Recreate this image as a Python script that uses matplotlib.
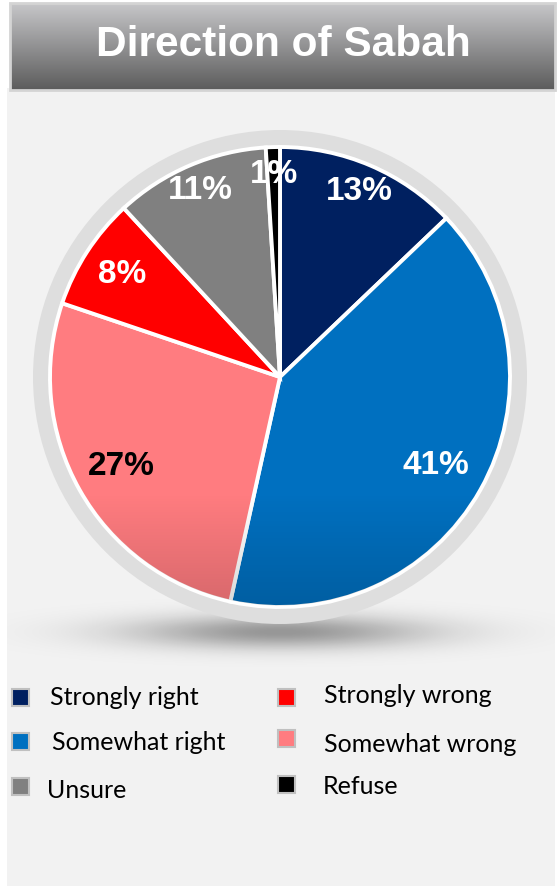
import numpy as np
import matplotlib
matplotlib.use("Agg")
import matplotlib.pyplot as plt
from matplotlib.patches import Rectangle, Circle

# data, pie order clockwise from 12 o'clock
labels = ["Strongly right", "Somewhat right", "Somewhat wrong",
          "Strongly wrong", "Unsure", "Refuse"]
values = [13, 41, 27, 8, 11, 1]
colors = ["#002060", "#0070c0", "#ff7c80", "#ff0000", "#808080", "#000000"]
label_colors = ["white", "white", "black", "white", "white", "white"]
label_dist = [0.875, 0.78, 0.79, 0.82, 0.88, 0.88]

# legend layout (two columns, as in the picture)
legend_cols = [["Strongly right", "Somewhat right", "Unsure"],
               ["Strongly wrong", "Somewhat wrong", "Refuse"]]

W, H = 559, 886
fig = plt.figure(figsize=(W / 100, H / 100), dpi=100)
fig.patch.set_facecolor("white")
ax = fig.add_axes([0, 0, 1, 1])
ax.set_xlim(0, W)
ax.set_ylim(0, H)
ax.set_aspect("equal")
ax.axis("off")


def py(y):
    # pixel row -> data y
    return H - y


# panel background
ax.add_patch(Rectangle((7, 0), 548, py(88), facecolor="#f2f2f2", edgecolor="none", zorder=0))

# title bar with vertical gradient
grad = np.linspace(0, 1, 256)[:, None]
top = np.array([0.78, 0.78, 0.79])
bot = np.array([0.36, 0.36, 0.36])
img = top + (bot - top) * grad[..., None]
img = np.repeat(img, 2, axis=1)
ax.imshow(img, extent=(10, 555, py(90), py(3)), aspect="auto", zorder=1)
ax.add_patch(Rectangle((10, py(90)), 545, 87, facecolor="none", edgecolor="#d4d4d4", lw=2, zorder=2))
ax.text(283, py(45), "Direction of Sabah", color="white", fontsize=30.5, fontweight="bold",
        family="Liberation Sans", ha="center", va="center", zorder=3)

# pie geometry
cx, cy, R = 280, py(377), 230

# soft shadow under the pie
xs = np.linspace(7, 555, 400)
ys = np.linspace(py(700), py(560), 150)
X, Y = np.meshgrid(xs, ys)
d = ((X - cx) / 170) ** 2 + ((Y - py(632)) / 19) ** 2
shadow = np.zeros(X.shape + (4,))
shadow[..., 3] = 0.38 * np.exp(-1.3 * d)
ax.imshow(shadow, extent=(7, 555, py(700), py(560)), origin="lower", aspect="auto", zorder=3)

# grey ring
ax.add_patch(Circle((cx, cy), 247, facecolor="#dedede", edgecolor="none", zorder=4))

wedges, _ = ax.pie(values, colors=colors, startangle=90, counterclock=False,
                   center=(cx, cy), radius=R, frame=True,
                   wedgeprops=dict(edgecolor="white", linewidth=2.8))
for w in wedges:
    w.set_zorder(5)
ax.set_xlim(0, W)
ax.set_ylim(0, H)
ax.axis("off")

# slight darkening toward the bottom of the pie
shade = np.zeros((200, 2, 4))
shade[..., 3] = np.clip(np.linspace(0.16, -0.05, 200), 0, None)[:, None]
sh = ax.imshow(shade, extent=(cx - R, cx + R, cy - R, cy - 80), origin="lower",
               aspect="auto", zorder=6)
clip = Circle((cx, cy), R - 1.5, transform=ax.transData)
sh.set_clip_path(clip)

for w, v, c, k in zip(wedges, values, label_colors, label_dist):
    ang = np.deg2rad((w.theta1 + w.theta2) / 2)
    ax.text(cx + k * R * np.cos(ang), cy + k * R * np.sin(ang), f"{v}%",
            color=c, fontsize=24, fontweight="bold", family="Liberation Sans",
            ha="center", va="center", zorder=7)

# legend
col_x = [20, 286]
row_y = [[697, 741, 786], [697, 738, 784]]
text_x = [[50, 52, 47], [324, 324, 323]]
text_base = [[705, 750, 798], [703, 752, 794]]
for ci, col in enumerate(legend_cols):
    for ri, name in enumerate(col):
        c = colors[labels.index(name)]
        y = py(row_y[ci][ri])
        ax.add_patch(Rectangle((col_x[ci] - 8.5, y - 8.5), 17, 17, facecolor=c,
                               edgecolor="#c0c0c0", lw=1.5, zorder=5))
        ax.text(text_x[ci][ri], py(text_base[ci][ri]), name, fontsize=18, family="Lato",
                ha="left", va="baseline", color="black", zorder=5)

fig.savefig("out.png", dpi=100)
